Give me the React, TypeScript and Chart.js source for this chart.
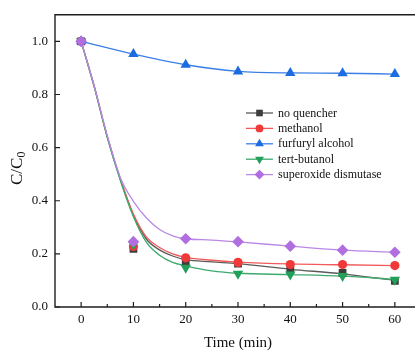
import React, { useEffect, useRef } from "react";
import { Chart, registerables } from "chart.js";

Chart.register(...registerables);

// ---------- data ----------
const times = [0, 10, 20, 30, 40, 50, 60];
const seriesNames = ["no quencher", "methanol", "furfuryl alcohol", "tert-butanol", "superoxide dismutase"];
const noQuencher = [1.0, 0.219, 0.173, 0.163, 0.141, 0.128, 0.098];
const methanol = [1.0, 0.228, 0.185, 0.168, 0.16, 0.16, 0.156];
const furfurylAlcohol = [1.0, 0.952, 0.912, 0.887, 0.881, 0.88, 0.877];
const tertButanol = [1.0, 0.235, 0.148, 0.125, 0.122, 0.117, 0.103];
const superoxideDismutase = [1.0, 0.246, 0.257, 0.246, 0.229, 0.214, 0.206];

// smoothed (fitted) curves
const curveTimes = [0, 2.5, 5, 7.5, 10, 12.5, 15, 17.5, 20, 25, 30, 40, 50, 60];
const noQuencherCurve = [1, 0.83, 0.64, 0.48, 0.345, 0.255, 0.215, 0.192, 0.178, 0.17, 0.163, 0.142, 0.125, 0.1];
const methanolCurve = [1, 0.83, 0.642, 0.483, 0.35, 0.263, 0.224, 0.2, 0.187, 0.176, 0.169, 0.162, 0.159, 0.156];
const tertButanolCurve = [1, 0.83, 0.638, 0.476, 0.34, 0.243, 0.195, 0.168, 0.155, 0.136, 0.127, 0.122, 0.116, 0.104];
const superoxideDismutaseCurve = [1, 0.832, 0.645, 0.487, 0.398, 0.335, 0.292, 0.268, 0.257, 0.252, 0.245, 0.229, 0.214, 0.206];

const xTicks = [0, 10, 20, 30, 40, 50, 60];
const xMinorTicks = [5, 15, 25, 35, 45, 55];
const yTicks = [0, 0.2, 0.4, 0.6, 0.8, 1.0];

// ---------- styles ----------
const FONT = "'Liberation Serif', 'Times New Roman', serif";
const markerColors = ["#3d3d3d", "#f03a3a", "#1c6be0", "#22a05a", "#b06ee0"];
const lineColors = ["#5a5a5a", "#f25a5a", "#3a7fe6", "#3caa6c", "#b988e6"];
const markerStyles = ["rect", "circle", "triangle", "triangleDown", "rectRot"];
const markerRadius = [5.5, 4.6, 6, 6, 5.8];

const markerSeries = [noQuencher, methanol, furfurylAlcohol, tertButanol, superoxideDismutase];
const curveSeries = [noQuencherCurve, methanolCurve, null, tertButanolCurve, superoxideDismutaseCurve];
const drawOrder = [4, 3, 2, 1, 0];

function drawMarker(ctx: CanvasRenderingContext2D, style: string, x: number, y: number, r: number, color: string) {
  ctx.save();
  ctx.fillStyle = color;
  ctx.beginPath();
  if (style === "rect") {
    const s = r * Math.SQRT1_2;
    ctx.rect(x - s, y - s, 2 * s, 2 * s);
  } else if (style === "circle") {
    ctx.arc(x, y, r, 0, Math.PI * 2);
  } else if (style === "triangle" || style === "triangleDown") {
    const dir = style === "triangle" ? 1 : -1;
    for (let i = 0; i < 3; i++) {
      const a = (i * 2 * Math.PI) / 3;
      const px = x + Math.sin(a) * r;
      const py = y - dir * Math.cos(a) * r;
      if (i === 0) ctx.moveTo(px, py);
      else ctx.lineTo(px, py);
    }
    ctx.closePath();
  } else {
    ctx.moveTo(x, y - r);
    ctx.lineTo(x + r, y);
    ctx.lineTo(x, y + r);
    ctx.lineTo(x - r, y);
    ctx.closePath();
  }
  ctx.fill();
  ctx.restore();
}

const decorPlugin = {
  id: "decor",
  afterDatasetsDraw(chart: any) {
    const { ctx, chartArea: a, scales } = chart;
    const xs = scales.x;
    const ys = scales.y;
    ctx.save();
    ctx.strokeStyle = "#1e1e1e";
    ctx.lineWidth = 1.4;
    ctx.beginPath();
    ctx.moveTo(a.right, a.top);
    ctx.lineTo(a.left, a.top);
    ctx.lineTo(a.left, a.bottom);
    ctx.lineTo(a.right, a.bottom);
    ctx.lineTo(a.right, a.top);
    ctx.stroke();

    ctx.lineWidth = 1.2;
    ctx.beginPath();
    xTicks.forEach((v) => {
      const px = xs.getPixelForValue(v);
      ctx.moveTo(px, a.bottom);
      ctx.lineTo(px, a.bottom - 5);
    });
    xMinorTicks.forEach((v) => {
      const px = xs.getPixelForValue(v);
      ctx.moveTo(px, a.bottom);
      ctx.lineTo(px, a.bottom - 3);
    });
    yTicks.forEach((v) => {
      const py = ys.getPixelForValue(v);
      ctx.moveTo(a.left, py);
      ctx.lineTo(a.left + 5, py);
    });
    ctx.stroke();

    // x title
    ctx.fillStyle = "#111";
    ctx.font = `15px ${FONT}`;
    ctx.textAlign = "center";
    ctx.textBaseline = "middle";
    ctx.fillText("Time (min)", (a.left + a.right) / 2, 343);

    // y title C/C0
    ctx.save();
    ctx.translate(22, 185);
    ctx.rotate(-Math.PI / 2);
    ctx.textAlign = "left";
    ctx.textBaseline = "alphabetic";
    ctx.font = `17px ${FONT}`;
    ctx.fillText("C/C", 0, 0);
    const w = ctx.measureText("C/C").width;
    ctx.font = `12px ${FONT}`;
    ctx.fillText("0", w, 3);
    ctx.restore();

    // legend
    const lx0 = 246;
    const lx1 = 273;
    const tx = 278;
    const y0 = 113;
    const dy = 15.4;
    ctx.font = `12px ${FONT}`;
    ctx.textAlign = "left";
    ctx.textBaseline = "middle";
    seriesNames.forEach((name, i) => {
      const y = y0 + i * dy;
      ctx.strokeStyle = lineColors[i];
      ctx.lineWidth = 1.3;
      ctx.beginPath();
      ctx.moveTo(lx0, y);
      ctx.lineTo(lx1, y);
      ctx.stroke();
      drawMarker(ctx, markerStyles[i], (lx0 + lx1) / 2, y, markerRadius[i] * 0.85, markerColors[i]);
      ctx.fillStyle = "#111";
      ctx.fillText(name, tx, y + 0.5);
    });
    ctx.restore();
  },
};

export default function App() {
  const ref = useRef<HTMLCanvasElement | null>(null);

  useEffect(() => {
    if (!ref.current) return;
    const datasets: any[] = [];
    seriesNames.forEach((name, i) => {
      const style = markerStyles[i];
      const chartStyle = style === "triangleDown" ? "triangle" : style;
      datasets.push({
        label: name,
        data: times.map((t, k) => ({ x: t, y: markerSeries[i][k] })),
        showLine: i === 2,
        borderColor: lineColors[i],
        borderWidth: 1.3,
        cubicInterpolationMode: "monotone",
        backgroundColor: markerColors[i],
        pointBackgroundColor: markerColors[i],
        pointBorderColor: markerColors[i],
        pointBorderWidth: 0,
        pointStyle: chartStyle,
        pointRotation: style === "triangleDown" ? 180 : 0,
        pointRadius: markerRadius[i],
        order: drawOrder[i],
      });
      const c = curveSeries[i];
      if (c) {
        datasets.push({
          label: name + " fit",
          data: curveTimes.map((t, k) => ({ x: t, y: c[k] })),
          showLine: true,
          borderColor: lineColors[i],
          borderWidth: 1.3,
          cubicInterpolationMode: "monotone",
          pointRadius: 0,
          order: 10 + drawOrder[i],
        });
      }
    });

    const chart = new Chart(ref.current, {
      type: "line",
      data: { datasets },
      options: {
        animation: false,
        responsive: false,
        maintainAspectRatio: false,
        layout: { padding: { top: 12, right: 9, left: 0, bottom: 0 } },
        plugins: { legend: { display: false }, tooltip: { enabled: false } },
        scales: {
          x: {
            type: "linear",
            min: -5,
            max: 65,
            grid: { display: false, drawTicks: false },
            border: { display: false },
            afterBuildTicks: (s: any) => {
              s.ticks = xTicks.map((v) => ({ value: v }));
            },
            afterFit: (s: any) => {
              s.height = 44;
            },
            ticks: {
              autoSkip: false,
              maxRotation: 0,
              padding: 5,
              color: "#111",
              font: { family: FONT, size: 13 },
              callback: (v: any) => String(v),
            },
          },
          y: {
            type: "linear",
            min: 0,
            max: 1.1,
            grid: { display: false, drawTicks: false },
            border: { display: false },
            afterBuildTicks: (s: any) => {
              s.ticks = yTicks.map((v) => ({ value: v }));
            },
            afterFit: (s: any) => {
              s.width = 55;
            },
            ticks: {
              autoSkip: false,
              padding: 7,
              color: "#111",
              font: { family: FONT, size: 13 },
              callback: (v: any) => Number(v).toFixed(1),
            },
          },
        },
      },
      plugins: [decorPlugin],
    });
    return () => chart.destroy();
  }, []);

  return (
    <div
      style={{
        position: "absolute",
        left: 0,
        top: 0,
        width: 415,
        height: 351,
        overflow: "hidden",
        background: "#fff",
      }}
    >
      <canvas ref={ref} width={430} height={351} style={{ display: "block", width: 430, height: 351 }} />
    </div>
  );
}
